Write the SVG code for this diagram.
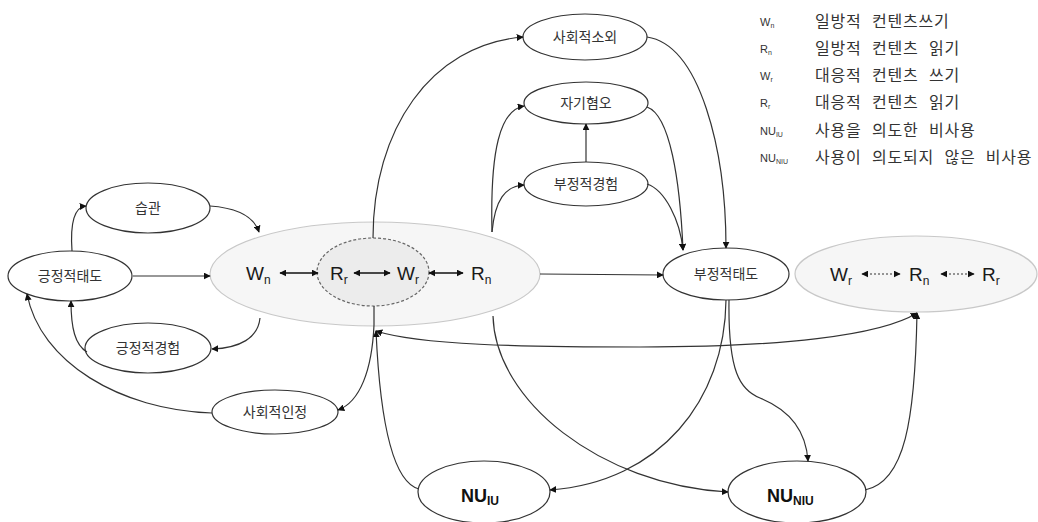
<svg xmlns="http://www.w3.org/2000/svg" width="1038" height="522" viewBox="0 0 1038 522">
  <style>
    .node { fill: #ffffff; stroke: #333333; stroke-width: 1.2; }
    .lbl { font-family: "Noto Sans CJK KR", "Liberation Sans", sans-serif; font-size: 14px; fill: #333333; text-anchor: middle; }
    .sym { font-family: "Liberation Sans", Arial, sans-serif; font-size: 19px; fill: #1a1a1a; }
    .nu { font-family: "Liberation Sans", Arial, sans-serif; font-size: 18px; font-weight: bold; fill: #111111; }
    .leg { font-family: "Noto Sans CJK KR", sans-serif; font-size: 16px; fill: #333333; letter-spacing: 0.8px; word-spacing: 6px; }
    .legs { font-family: "Liberation Sans", Arial, sans-serif; font-size: 11px; fill: #333333; }
    .conn path, .conn line { fill: none; stroke: #333333; stroke-width: 1.2; }
    .inner line { stroke: #111111; stroke-width: 1.3; }
    .dotted line { stroke: #333333; stroke-width: 1.2; stroke-dasharray: 2 2; }
  </style>
  <defs>
    <marker id="ah" viewBox="0 0 10 10" refX="9" refY="5" markerWidth="7" markerHeight="7" markerUnits="userSpaceOnUse" orient="auto-start-reverse">
      <path d="M0,0 L10,5 L0,10 z" fill="#111111"/>
    </marker>
  </defs>

  <!-- legend -->
  <g id="legend">
    <text class="legs" x="760" y="26">W<tspan font-size="7" dy="2">n</tspan></text>
    <text class="leg" x="815" y="27">일방적 컨텐츠쓰기</text>
    <text class="legs" x="760" y="53">R<tspan font-size="7" dy="2">n</tspan></text>
    <text class="leg" x="815" y="54">일방적 컨텐츠 읽기</text>
    <text class="legs" x="760" y="80">W<tspan font-size="7" dy="2">r</tspan></text>
    <text class="leg" x="815" y="81">대응적 컨텐츠 쓰기</text>
    <text class="legs" x="760" y="107">R<tspan font-size="7" dy="2">r</tspan></text>
    <text class="leg" x="815" y="108">대응적 컨텐츠 읽기</text>
    <text class="legs" x="760" y="135">NU<tspan font-size="7" dy="2">IU</tspan></text>
    <text class="leg" x="815" y="136">사용을 의도한 비사용</text>
    <text class="legs" x="760" y="162">NU<tspan font-size="7" dy="2">NIU</tspan></text>
    <text class="leg" x="815" y="163">사용이 의도되지 않은 비사용</text>
  </g>

  <!-- usage cluster (left) -->
  <g id="usage">
    <ellipse cx="375" cy="274" rx="165" ry="52" fill="#f6f6f6" stroke="#c8c8c8" stroke-width="1.2"/>
    <ellipse cx="373" cy="272" rx="56" ry="34" fill="#ececec" stroke="#666666" stroke-width="1.2" stroke-dasharray="3 2"/>
    <text class="sym" x="246" y="280">W<tspan font-size="12" dy="4">n</tspan></text>
    <text class="sym" x="330" y="280">R<tspan font-size="12" dy="4">r</tspan></text>
    <text class="sym" x="397" y="280">W<tspan font-size="12" dy="4">r</tspan></text>
    <text class="sym" x="471" y="280">R<tspan font-size="12" dy="4">n</tspan></text>
    <g class="inner">
      <line x1="280" y1="273" x2="318" y2="273" marker-start="url(#ah)" marker-end="url(#ah)"/>
      <line x1="354" y1="273" x2="390" y2="273" marker-start="url(#ah)" marker-end="url(#ah)"/>
      <line x1="429" y1="273" x2="463" y2="273" marker-start="url(#ah)" marker-end="url(#ah)"/>
    </g>
  </g>

  <!-- usage cluster (right) -->
  <g id="usage-right">
    <ellipse cx="916" cy="274" rx="121" ry="38" fill="#f6f6f6" stroke="#c8c8c8" stroke-width="1.2"/>
    <text class="sym" x="830" y="281">W<tspan font-size="12" dy="4">r</tspan></text>
    <text class="sym" x="909" y="281">R<tspan font-size="12" dy="4">n</tspan></text>
    <text class="sym" x="982" y="281">R<tspan font-size="12" dy="4">r</tspan></text>
    <g class="dotted">
      <line x1="862" y1="274" x2="900" y2="274" marker-start="url(#ah)" marker-end="url(#ah)"/>
      <line x1="941" y1="274" x2="974" y2="274" marker-start="url(#ah)" marker-end="url(#ah)"/>
    </g>
  </g>

  <g id="positive-attitude">
    <ellipse class="node" cx="70" cy="276" rx="62" ry="25"/>
    <text class="lbl" x="70" y="281">긍정적태도</text>
  </g>
  <g id="habit">
    <ellipse class="node" cx="148" cy="208" rx="62" ry="25"/>
    <text class="lbl" x="148" y="213">습관</text>
  </g>
  <g id="positive-experience">
    <ellipse class="node" cx="148" cy="348" rx="63" ry="25"/>
    <text class="lbl" x="148" y="353">긍정적경험</text>
  </g>
  <g id="social-recognition">
    <ellipse class="node" cx="275" cy="412" rx="63" ry="22"/>
    <text class="lbl" x="275" y="417">사회적인정</text>
  </g>
  <g id="social-alienation">
    <ellipse class="node" cx="585" cy="37" rx="62" ry="23"/>
    <text class="lbl" x="585" y="42">사회적소외</text>
  </g>
  <g id="self-loathing">
    <ellipse class="node" cx="586" cy="103" rx="62" ry="21"/>
    <text class="lbl" x="586" y="108">자기혐오</text>
  </g>
  <g id="negative-experience">
    <ellipse class="node" cx="586" cy="184" rx="62" ry="22"/>
    <text class="lbl" x="586" y="189">부정적경험</text>
  </g>
  <g id="negative-attitude">
    <ellipse class="node" cx="726" cy="274" rx="63" ry="26"/>
    <text class="lbl" x="726" y="279">부정적태도</text>
  </g>
  <g id="nu-iu">
    <ellipse class="node" cx="484" cy="492" rx="66" ry="31"/>
    <text class="nu" x="461" y="502">NU<tspan font-size="12" dy="3">IU</tspan></text>
  </g>
  <g id="nu-niu">
    <ellipse class="node" cx="797" cy="492" rx="69" ry="31"/>
    <text class="nu" x="767" y="502">NU<tspan font-size="12" dy="3">NIU</tspan></text>
  </g>

  <!-- connectors -->
  <g id="connectors" class="conn">
    <path d="M72,251 C70,222 74,207 86,206" marker-end="url(#ah)"/>
    <path d="M210,206 C238,208 254,217 259,232" marker-end="url(#ah)"/>
    <line x1="133" y1="276" x2="210" y2="276" marker-end="url(#ah)"/>
    <path d="M260,318 C258,338 240,348 212,349" marker-end="url(#ah)"/>
    <path d="M87,352 C75,345 71,328 71,301" marker-end="url(#ah)"/>
    <path d="M212,413 C120,410 40,362 27,294" marker-end="url(#ah)"/>
    <path d="M374,306 L374,325 C372,370 360,402 338,410" marker-end="url(#ah)"/>
    <path d="M419,489 C392,482 380,420 376,331" marker-end="url(#ah)"/>
    <path d="M376,331 C420,345 520,347 640,347 C780,347 880,336 917,313" marker-start="url(#ah)" marker-end="url(#ah)"/>
    <path d="M865,490 C905,482 915,420 917,313" marker-end="url(#ah)"/>
    <path d="M493,316 C495,400 600,485 728,492" marker-end="url(#ah)"/>
    <path d="M726,300 C725,400 660,482 550,490" marker-end="url(#ah)"/>
    <path d="M729,300 C728,372 740,390 760,398 C790,410 806,430 808,461" marker-end="url(#ah)"/>
    <path d="M373,238 C373,130 430,45 523,37" marker-end="url(#ah)"/>
    <path d="M647,37 C700,45 726,150 726,248" marker-end="url(#ah)"/>
    <path d="M492,232 C490,150 500,110 524,106" marker-end="url(#ah)"/>
    <path d="M492,232 C495,200 505,186 524,185" marker-end="url(#ah)"/>
    <line x1="586" y1="162" x2="586" y2="124" marker-end="url(#ah)"/>
    <path d="M647,107 C670,115 680,180 683,250" marker-end="url(#ah)"/>
    <path d="M647,184 C665,190 680,220 683,250" marker-end="url(#ah)"/>
    <line x1="540" y1="274" x2="663" y2="275" marker-end="url(#ah)"/>
  </g>
</svg>
